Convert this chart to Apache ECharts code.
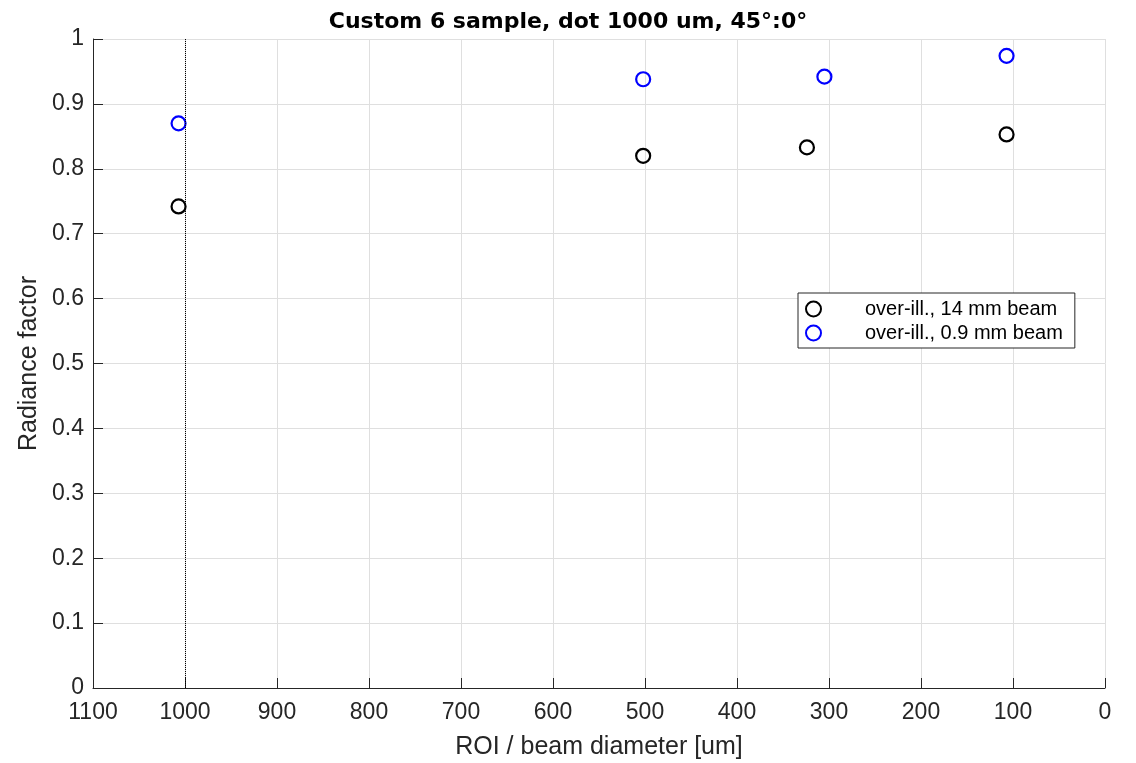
<!DOCTYPE html>
<html>
<head>
<meta charset="utf-8">
<script src="https://cdn.jsdelivr.net/npm/echarts@6/dist/echarts.min.js"></script>
<style>
  html, body { margin: 0; padding: 0; background: #fff; }
  #main { width: 1136px; height: 763px; }
</style>
</head>
<body>
<div id="main"></div>
<script>
// ROI / beam diameter [um] and radiance factor
var beam14X = [1007, 502, 324, 107];
var beam14Y = [0.742, 0.820, 0.833, 0.853];
var beam09X = [1007, 502, 305, 107];
var beam09Y = [0.870, 0.938, 0.942, 0.974];
var seriesNames = ['over-ill., 14 mm beam', 'over-ill., 0.9 mm beam'];
var dotSize = 1000;

function pairs(xs, ys) {
  return xs.map(function (x, i) { return [x, ys[i]]; });
}

var axisColor = '#262626';
var fontFam = 'Liberation Sans, Arial, sans-serif';

var chart = echarts.init(document.getElementById('main'));
var option = {
  animation: false,
  backgroundColor: '#fff',
  title: {
    text: 'Custom 6 sample, dot 1000 um, 45°:0°',
    left: 'center',
    top: 6,
    textStyle: { fontSize: 22, fontWeight: 'bold', color: '#000', fontFamily: 'DejaVu Sans, sans-serif' }
  },
  legend: {
    orient: 'vertical',
    left: 798,
    top: 293,
    padding: [6, 12, 5, 7],
    itemGap: 4,
    itemWidth: 15,
    itemHeight: 15,
    backgroundColor: '#fff',
    borderColor: axisColor,
    borderWidth: 1,
    borderRadius: 0,
    textStyle: { fontSize: 20, color: '#000', fontFamily: fontFam, padding: [0, 0, 0, 39] },
    data: seriesNames.map(function (n) { return { name: n, icon: 'circle' }; })
  },
  grid: { left: 93, right: 31, top: 39, bottom: 75, outerBoundsMode: 'none', containLabel: false },
  xAxis: {
    type: 'value',
    inverse: true,
    min: 0,
    max: 1100,
    interval: 100,
    name: 'ROI / beam diameter [um]',
    nameLocation: 'middle',
    nameGap: 47,
    nameTextStyle: { fontSize: 25, color: axisColor, fontFamily: fontFam },
    axisLine: { show: true, onZero: false, lineStyle: { color: axisColor, width: 1 } },
    axisTick: { inside: true, length: 10, lineStyle: { color: axisColor } },
    axisLabel: {
      fontSize: 23, color: axisColor, fontFamily: fontFam, margin: 13,
      formatter: function (v) { return String(v); }
    },
    splitLine: { show: true, lineStyle: { color: '#dfdfdf', width: 1 } }
  },
  yAxis: {
    type: 'value',
    min: 0,
    max: 1,
    interval: 0.1,
    name: 'Radiance factor',
    nameLocation: 'middle',
    nameGap: 47,
    nameTextStyle: { fontSize: 25, color: axisColor, fontFamily: fontFam },
    axisLine: { show: true, onZero: false, lineStyle: { color: axisColor, width: 1 } },
    axisTick: { inside: true, length: 10, lineStyle: { color: axisColor } },
    axisLabel: {
      fontSize: 23, color: axisColor, fontFamily: fontFam, margin: 9,
      formatter: function (v) { return String(Math.round(v * 10) / 10); }
    },
    splitLine: { show: true, lineStyle: { color: '#dfdfdf', width: 1 } }
  },
  series: [
    {
      name: seriesNames[0],
      type: 'scatter',
      symbol: 'circle',
      symbolSize: 14,
      itemStyle: { color: 'rgba(255,255,255,0)', borderColor: '#000', borderWidth: 2.2, opacity: 1 },
      data: pairs(beam14X, beam14Y),
      markLine: {
        silent: true,
        symbol: 'none',
        label: { show: false },
        lineStyle: { color: '#000', type: 'dotted', width: 1 },
        data: [{ xAxis: dotSize }]
      },
      z: 3
    },
    {
      name: seriesNames[1],
      type: 'scatter',
      symbol: 'circle',
      symbolSize: 14,
      itemStyle: { color: 'rgba(255,255,255,0)', borderColor: '#0000ff', borderWidth: 2.2, opacity: 1 },
      data: pairs(beam09X, beam09Y),
      z: 3
    }
  ]
};
chart.setOption(option);
</script>
</body>
</html>
